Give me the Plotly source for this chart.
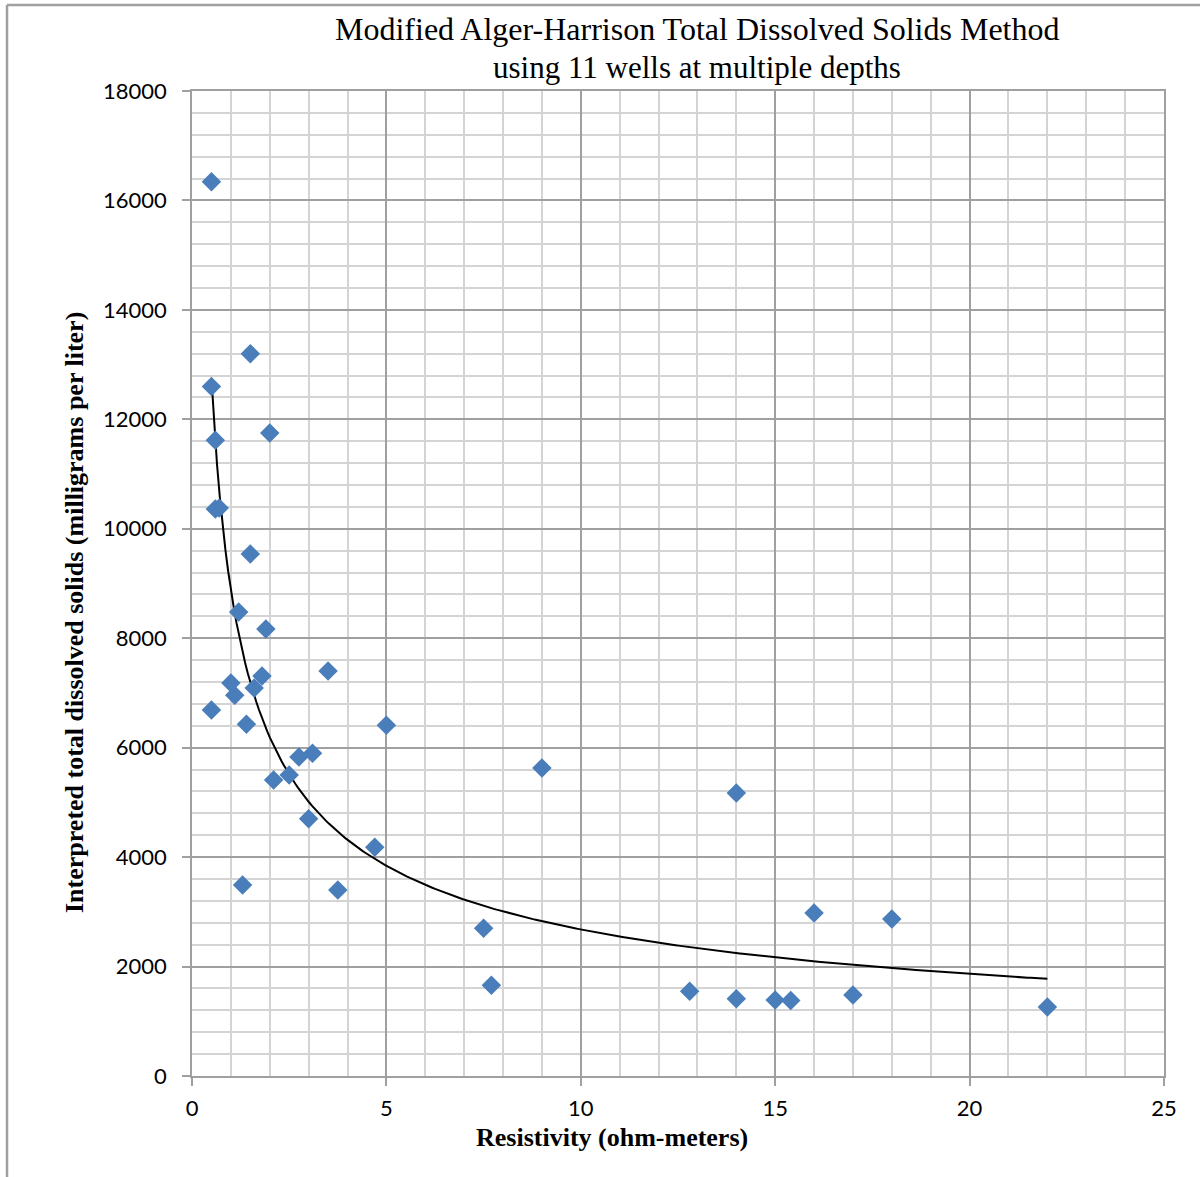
import numpy as np
import plotly.graph_objects as go

# Data
resistivity = [0.5, 1.5, 0.5, 0.6, 2.0, 0.6, 0.7, 1.5, 1.2, 1.9,
               3.5, 1.8, 1.0, 1.6, 1.1, 0.5, 1.4, 5.0, 3.1, 2.75,
               9.0, 2.5, 2.1, 14.0, 3.0, 4.7, 1.3, 3.75, 16.0, 18.0,
               7.5, 7.7, 12.8, 17.0, 14.0, 15.0, 15.4, 22.0]
tds = [16340, 13200, 12600, 11620, 11750, 10360, 10380, 9540, 8480, 8170,
       7400, 7310, 7180, 7090, 6960, 6690, 6430, 6410, 5900, 5830,
       5630, 5500, 5410, 5170, 4700, 4180, 3490, 3400, 2980, 2870,
       2700, 1660, 1550, 1480, 1410, 1390, 1380, 1260]

x_ticks = [0, 5, 10, 15, 20, 25]
y_ticks = [0, 2000, 4000, 6000, 8000, 10000, 12000, 14000, 16000, 18000]

title_line1 = "Modified Alger-Harrison Total Dissolved Solids Method"
title_line2 = "using 11 wells at multiple depths"
x_title = "Resistivity (ohm-meters)"
y_title = "Interpreted total dissolved solids (milligrams per liter)"

# Power trendline (least squares in log-log space, as a spreadsheet power trendline)
lx = np.log(np.array(resistivity))
ly = np.log(np.array(tds))
b, ln_a = np.polyfit(lx, ly, 1)
a = np.exp(ln_a)
x_fit = np.linspace(min(resistivity), max(resistivity), 300)
y_fit = a * x_fit ** b

W, H = 1200, 1177
L, R, T, B = 192, 36, 91, 101
pw, ph = W - L - R, H - T - B


def px(xp):
    return (xp - L) / pw


def py(yp):
    return (H - B - yp) / ph


fig = go.Figure()
fig.add_trace(go.Scatter(
    x=x_fit, y=y_fit, mode="lines",
    line=dict(color="black", width=2), hoverinfo="skip", showlegend=False))
fig.add_trace(go.Scatter(
    x=resistivity, y=tds, mode="markers",
    marker=dict(symbol="diamond", size=15, color="#4a7ebb",
                line=dict(width=0)),
    showlegend=False))

grid_major = "#a0a0a0"
grid_minor = "#d4d4d4"
tick_font = dict(family="Lato, Carlito, Open Sans, sans-serif", size=22, color="black")

fig.update_xaxes(
    range=[0, 25], tickvals=x_ticks, ticktext=[str(v) for v in x_ticks],
    showgrid=True, gridcolor=grid_major, gridwidth=1.5,
    minor=dict(dtick=1, showgrid=True, gridcolor=grid_minor, gridwidth=1.5, ticks=""),
    showline=True, linecolor=grid_major, linewidth=1.5, mirror=True,
    ticks="outside", ticklen=8, tickcolor=grid_major, tickwidth=1.5,
    tickfont=tick_font, zeroline=False, fixedrange=True, ticklabelstandoff=4)
fig.update_yaxes(
    range=[0, 18000], tickvals=y_ticks, ticktext=[str(v) for v in y_ticks],
    showgrid=True, gridcolor=grid_major, gridwidth=1.5,
    minor=dict(dtick=400, showgrid=True, gridcolor=grid_minor, gridwidth=1.5, ticks=""),
    showline=True, linecolor=grid_major, linewidth=1.5, mirror=True,
    ticks="outside", ticklen=8, tickcolor=grid_major, tickwidth=1.5,
    tickfont=tick_font, zeroline=False, fixedrange=True, ticklabelstandoff=11)

serif = "Liberation Serif, Times New Roman, serif"
annotations = [
    dict(text=title_line1, x=px(697), y=py(29), xref="paper", yref="paper",
         showarrow=False, xanchor="center", yanchor="middle",
         font=dict(family=serif, size=32, color="black")),
    dict(text=title_line2, x=px(697), y=py(67), xref="paper", yref="paper",
         showarrow=False, xanchor="center", yanchor="middle",
         font=dict(family=serif, size=31, color="black")),
    dict(text="<b>" + x_title + "</b>", x=px(612), y=py(1137), xref="paper", yref="paper",
         showarrow=False, xanchor="center", yanchor="middle",
         font=dict(family=serif, size=26, color="black")),
    dict(text="<b>" + y_title + "</b>", x=px(74), y=py(613), xref="paper", yref="paper",
         showarrow=False, xanchor="center", yanchor="middle", textangle=-90,
         font=dict(family=serif, size=26, color="black")),
]

shapes = [
    dict(type="line", xref="paper", yref="paper", x0=px(7), x1=px(7), y0=py(5), y1=py(H + 20),
         line=dict(color="#a0a0a0", width=2.5)),
    dict(type="line", xref="paper", yref="paper", x0=px(7), x1=px(W + 20), y0=py(5), y1=py(5),
         line=dict(color="#a0a0a0", width=2.5)),
]

fig.update_layout(
    width=W, height=H,
    margin=dict(l=L, r=R, t=T, b=B, autoexpand=False),
    paper_bgcolor="white", plot_bgcolor="white",
    annotations=annotations, shapes=shapes, showlegend=False)

fig.write_html("out.html")
